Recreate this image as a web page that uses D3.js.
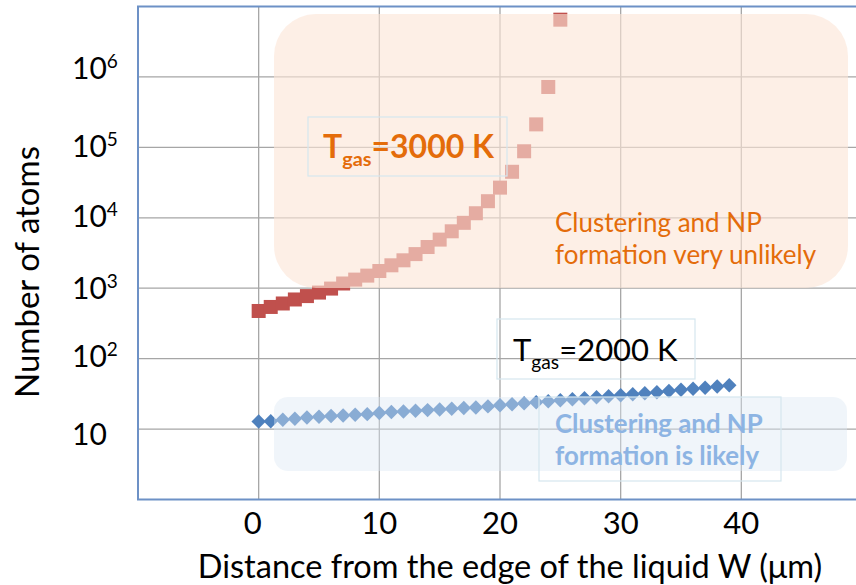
<!DOCTYPE html>
<html>
<head>
<meta charset="utf-8">
<script src="https://cdn.jsdelivr.net/npm/d3@7/dist/d3.min.js"></script>
<style>
  body { margin: 0; background: #fff; }
  svg { display: block; font-family: Lato, "Open Sans", sans-serif; }
</style>
</head>
<body>
<svg id="chart" width="856" height="585"></svg>
<script>
// T_gas = 3000 K series (distance in µm, number of atoms)
const distHot = [0, 1, 2, 3, 4, 5, 6, 7, 8, 9, 10, 11, 12, 13, 14, 15, 16, 17, 18, 19, 20, 21, 22, 23, 24, 25];
const atomsHot = [475, 542, 607, 692, 773, 867, 988, 1167, 1325, 1510, 1755, 2115, 2490, 3050, 3845,
                  4900, 6430, 8480, 11600, 17200, 26800, 45000, 88000, 212000, 720000, 6500000];

// T_gas = 2000 K series
const distCool = [0, 1, 2, 3, 4, 5, 6, 7, 8, 9, 10, 11, 12, 13, 14, 15, 16, 17, 18, 19,
                  20, 21, 22, 23, 24, 25, 26, 27, 28, 29, 30, 31, 32, 33, 34, 35, 36, 37, 38, 39];
const atomsCool = [12.8, 12.9, 13.6, 14.0, 14.6, 15.0, 15.3, 15.6, 16.0, 16.3, 16.9, 17.5, 17.8, 18.2, 18.6,
                   19.0, 19.4, 19.9, 20.3, 21.0, 21.8, 22.5, 23.3, 24.0, 24.8, 25.7, 26.5, 27.4, 28.3, 29.3,
                   30.2, 31.2, 32.3, 33.3, 34.7, 36.2, 37.3, 38.6, 40.2, 41.9];

const xTicks = [0, 10, 20, 30, 40];
const yTicks = [10, 1e2, 1e3, 1e4, 1e5, 1e6];

const svg = d3.select("#chart");

// Scales (plot area runs from -10 to 50 µm and 1 to 1e7 atoms)
const x = d3.scaleLinear().domain([-10, 50]).range([138, 862]);
const y = d3.scaleLog().domain([1, 1e7]).range([499.5, 6.5]);

const gridColor = "#a6a6a6";
const borderColor = "#6d91c6";

// Gridlines
svg.append("g")
    .selectAll("line")
    .data(yTicks)
    .join("line")
    .attr("x1", x(-10)).attr("x2", x(50))
    .attr("y1", d => y(d)).attr("y2", d => y(d))
    .attr("stroke", gridColor).attr("stroke-width", 1.3);

svg.append("g")
    .selectAll("line")
    .data(xTicks.concat([50]))
    .join("line")
    .attr("x1", d => x(d)).attr("x2", d => x(d))
    .attr("y1", y(1e7)).attr("y2", y(1))
    .attr("stroke", gridColor).attr("stroke-width", 1.3);

// Plot frame (left, top, bottom)
svg.append("path")
    .attr("d", `M${x(50)},${y(1e7)}H${x(-10)}V${y(1)}H${x(50)}`)
    .attr("fill", "none")
    .attr("stroke", borderColor)
    .attr("stroke-width", 2);

// Series
const hot = distHot.map((d, i) => ({x: d, v: atomsHot[i]}));
const cool = distCool.map((d, i) => ({x: d, v: atomsCool[i]}));

svg.append("g")
    .selectAll("rect")
    .data(hot)
    .join("rect")
    .attr("x", d => x(d.x) - 7)
    .attr("y", d => y(d.v) - 7)
    .attr("width", 14)
    .attr("height", 14)
    .attr("fill", "#c0504d");

const diamond = d3.symbol(d3.symbolSquare, 104);
svg.append("g")
    .selectAll("path")
    .data(cool)
    .join("path")
    .attr("d", diamond)
    .attr("transform", d => `translate(${x(d.x)},${y(d.v)}) rotate(45)`)
    .attr("fill", "#4f81bd");

// Shaded regions (drawn over the markers, semi-transparent)
svg.append("rect")
    .attr("x", 274).attr("y", 14)
    .attr("width", 574).attr("height", 274)
    .attr("rx", 42)
    .attr("fill", "#fbe5d6")
    .attr("opacity", 0.62);

svg.append("rect")
    .attr("x", 274).attr("y", 397)
    .attr("width", 573).attr("height", 74)
    .attr("rx", 14)
    .attr("fill", "#dce6f2")
    .attr("opacity", 0.42);

// Text boxes
const boxes = [
    {x: 308, y: 117, w: 199, h: 59},
    {x: 497, y: 319, w: 198, h: 60},
    {x: 539, y: 397, w: 242, h: 84}
];
svg.append("g")
    .selectAll("rect")
    .data(boxes)
    .join("rect")
    .attr("x", d => d.x).attr("y", d => d.y)
    .attr("width", d => d.w).attr("height", d => d.h)
    .attr("fill", "none")
    .attr("stroke", "#d5e7ef")
    .attr("stroke-width", 1.2);

// T_gas labels
function tgas(xPos, yPos, label, color, weight, size) {
    const t = svg.append("text")
        .attr("x", xPos).attr("y", yPos)
        .attr("fill", color)
        .attr("font-weight", weight)
        .attr("font-size", size);
    t.append("tspan").text("T");
    t.append("tspan").attr("dy", 8).attr("font-size", size * 0.62).text("gas");
    t.append("tspan").attr("dy", -8).text(label);
}
tgas(323, 158, "=3000 K", "#e46c0a", 700, 32);
tgas(513, 361, "=2000 K", "#000", 400, 31);

// Region annotations
const unlikely = svg.append("text")
    .attr("fill", "#e46c0a")
    .attr("font-size", 26);
unlikely.append("tspan").attr("x", 555).attr("y", 232).text("Clustering and NP");
unlikely.append("tspan").attr("x", 555).attr("y", 264).text("formation very unlikely");

const likely = svg.append("text")
    .attr("fill", "#8db4e3")
    .attr("font-weight", 700)
    .attr("font-size", 25.8);
likely.append("tspan").attr("x", 555).attr("y", 433).text("Clustering and NP");
likely.append("tspan").attr("x", 555).attr("y", 465).text("formation is likely");

// Y tick labels (powers of ten, placed like the original text boxes)
const yNudge = {1: 16, 2: 8, 3: 11, 4: 9, 5: 10, 6: 2};
yTicks.forEach(v => {
    const e = Math.round(Math.log10(v));
    const t = svg.append("text")
        .attr("x", 72)
        .attr("y", y(v) + yNudge[e])
        .attr("font-size", 30)
        .attr("fill", "#000");
    t.append("tspan").text("10");
    if (e > 1) {
        t.append("tspan").attr("dy", -11).attr("font-size", 19).text(e);
    }
});

// X tick labels
svg.append("g")
    .selectAll("text")
    .data(xTicks)
    .join("text")
    .attr("x", d => x(d) - (d === 0 ? 6 : 0))
    .attr("y", 534)
    .attr("text-anchor", "middle")
    .attr("font-size", 31)
    .text(d => d);

// Axis titles
svg.append("text")
    .attr("x", 510)
    .attr("y", 578)
    .attr("text-anchor", "middle")
    .attr("font-size", 32.5)
    .text("Distance from the edge of the liquid W (\u03bcm)");

svg.append("text")
    .attr("transform", "translate(39,272) rotate(-90)")
    .attr("text-anchor", "middle")
    .attr("font-size", 33)
    .text("Number of atoms");
</script>
</body>
</html>
